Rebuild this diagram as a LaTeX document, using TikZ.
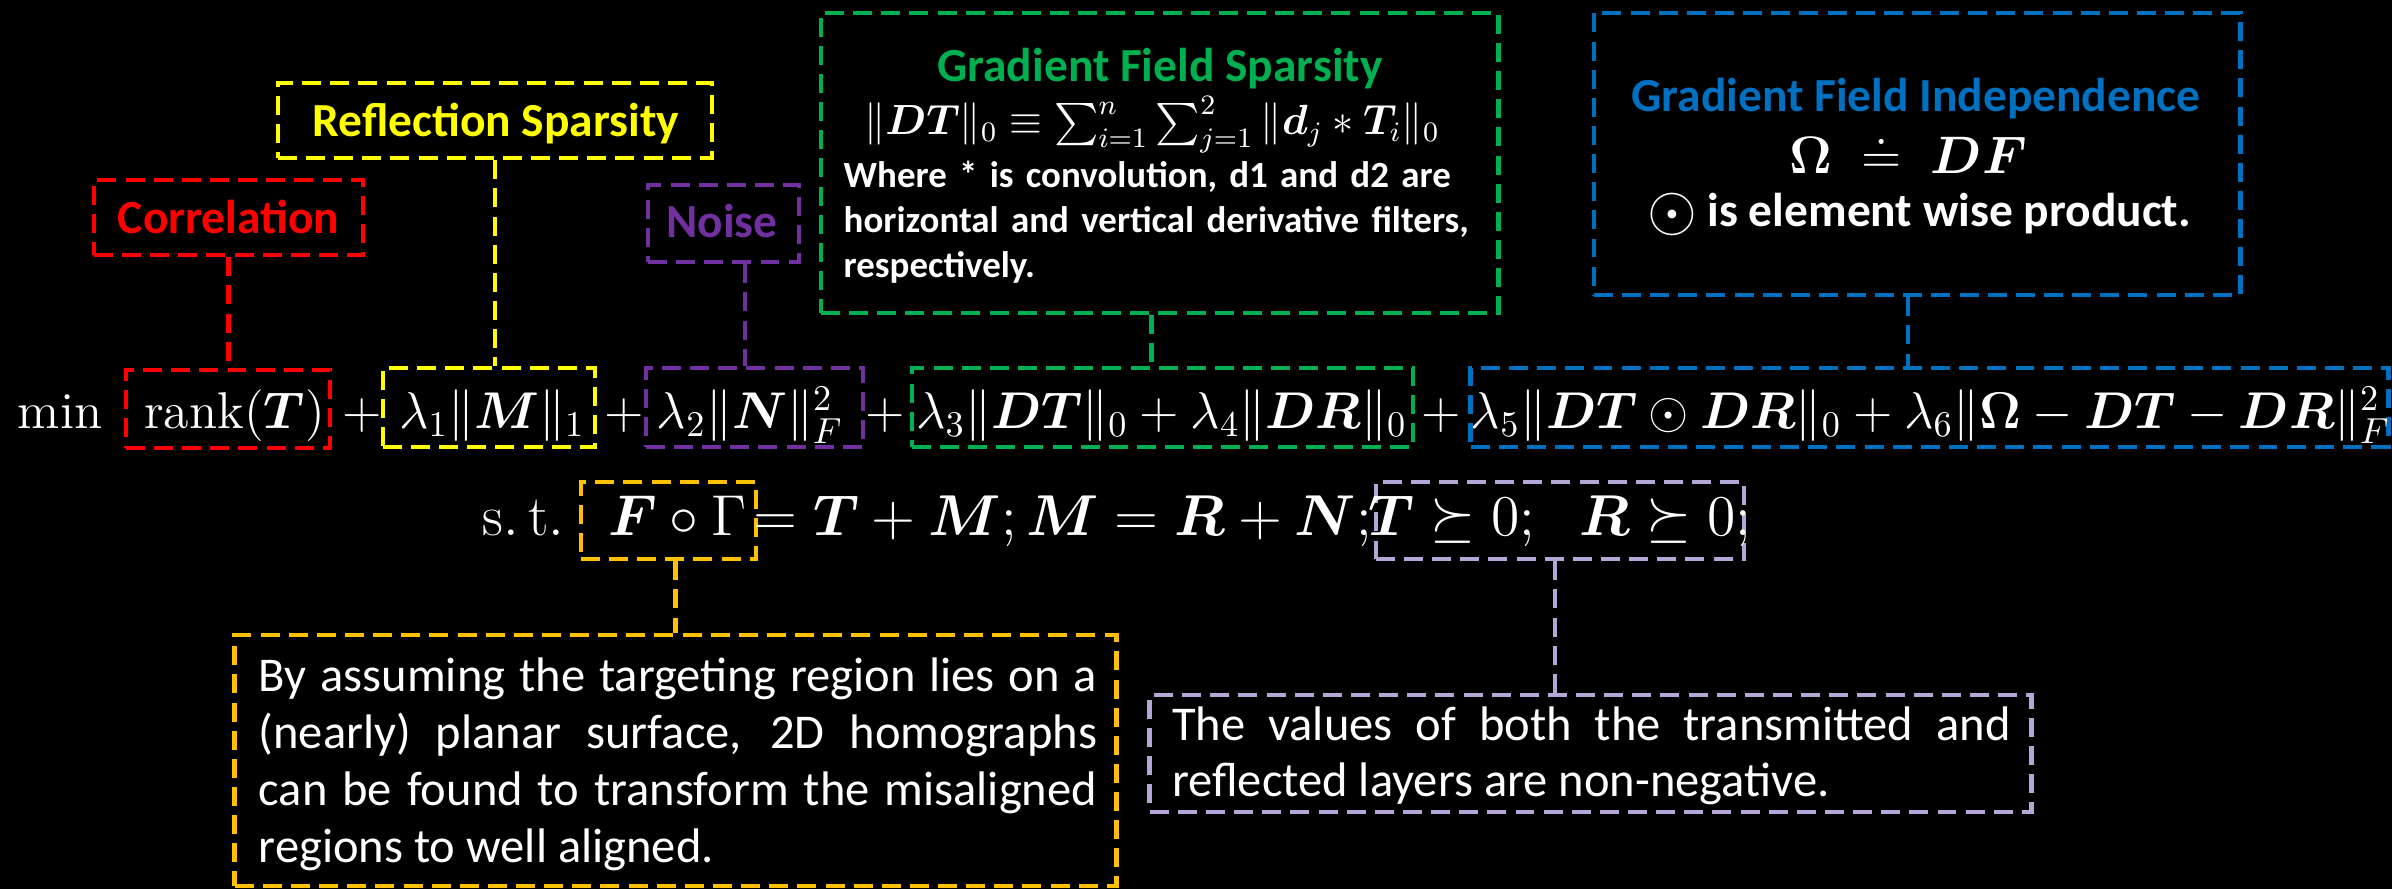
\RequirePackage{fix-cm}
\documentclass[tikz,border=0pt]{standalone}
\usepackage{amsmath,amssymb,bm}
\usepackage{graphicx}
\usepackage{fontspec}
\newfontfamily\calib{Carlito}
\usetikzlibrary{calc}
\definecolor{cRed}{HTML}{FF0000}
\definecolor{cYel}{HTML}{FFFF00}
\definecolor{cPur}{HTML}{7030A0}
\definecolor{cGrn}{HTML}{00B050}
\definecolor{cBlu}{HTML}{0070C0}
\definecolor{cOra}{HTML}{FFC000}
\definecolor{cLav}{HTML}{B4A7D6}
\tikzset{
  dbox/.style={draw=#1, line width=1.3pt, dash pattern=on 5.4pt off 2.6pt, inner sep=0pt, rectangle},
  link/.style={draw=#1, line width=1.3pt, dash pattern=on 5.4pt off 2.6pt},
  lbl/.style={font=\calib\bfseries\fontsize{13.5}{16}\selectfont, text=#1, inner sep=0pt, anchor=base},
  eq/.style={font=\fontsize{14.7}{17}\selectfont, text=white, inner sep=0pt, anchor=base},
  eqb/.style={font=\fontsize{16.4}{19}\selectfont, text=white, inner sep=0pt, anchor=base},
  para/.style={font=\calib\fontsize{13.8}{16.2}\selectfont, text=white, inner sep=0pt, anchor=base west, text width=8.38cm, align=justify},
}
\begin{document}
\begin{tikzpicture}[x=0.01cm, y=-0.01cm]
\useasboundingbox (0,0) rectangle (2392,889);
\fill[black] (0,0) rectangle (2392,889);

% boxes
\node[dbox=cRed, minimum width=2.69cm, minimum height=0.75cm] (corrBox) at (228.5,217.5) {};
\node[dbox=cYel, minimum width=4.34cm, minimum height=0.75cm] (reflBox) at (495,120.5) {};
\node[dbox=cPur, minimum width=1.51cm, minimum height=0.77cm] (noiseBox) at (723.5,223.5) {};
\node[dbox=cGrn, minimum width=6.77cm, minimum height=3.00cm] (gfsBox) at (1159.5,163) {};
\node[dbox=cBlu, minimum width=6.46cm, minimum height=2.82cm] (gfiBox) at (1917,154) {};
\node[dbox=cRed, minimum width=2.04cm, minimum height=0.78cm] (rankBox) at (228,409) {};
\node[dbox=cYel, minimum width=2.12cm, minimum height=0.79cm] (mBox) at (489,407.5) {};
\node[dbox=cPur, minimum width=2.17cm, minimum height=0.79cm] (nBox) at (754.5,407.5) {};
\node[dbox=cGrn, minimum width=5.01cm, minimum height=0.79cm] (dBox) at (1162.5,407.5) {};
\node[dbox=cBlu, minimum width=9.17cm, minimum height=0.79cm] (indBox) at (1929.5,407.5) {};
\node[dbox=cOra, minimum width=1.75cm, minimum height=0.77cm] (fgBox) at (668.5,520.5) {};
\node[dbox=cLav, minimum width=3.68cm, minimum height=0.77cm] (posBox) at (1560,520.5) {};
\node[dbox=cOra, minimum width=8.81cm, minimum height=2.51cm] (homBox) at (675.5,760.5) {};
\node[dbox=cLav, minimum width=8.81cm, minimum height=1.17cm] (nnBox) at (1590.5,753.5) {};

% connectors
\draw[link=cRed] (corrBox.south) -- (corrBox.south |- rankBox.north);
\draw[link=cYel] (reflBox.south) -- (reflBox.south |- mBox.north);
\draw[link=cPur] ($(nBox.north |- noiseBox.south)+(-9.5,0)$) -- ($(nBox.north)+(-9.5,0)$);
\draw[link=cGrn] ($(gfsBox.south)+(-8,0)$) -- ($(gfsBox.south |- dBox.north)+(-8,0)$);
\draw[link=cBlu] ($(gfiBox.south)+(-9,0)$) -- ($(gfiBox.south |- indBox.north)+(-9,0)$);
\draw[link=cOra] (homBox.north |- fgBox.south) -- (homBox.north);
\draw[link=cLav] ($(posBox.south)+(-5,0)$) -- ($(posBox.south |- nnBox.north)+(-5,0)$);

% labels
\node[lbl=cRed] (tcorr) at (228.5,234) {Correlation};
\node[lbl=cYel] (trefl) at (496,137) {Reflection Sparsity};
\node[lbl=cPur] (tnoise) at (722,238) {Noise};
\node[lbl=cGrn] (tgfs) at (1160,82) {Gradient Field Sparsity};
\node[eq, font=\fontsize{12}{14}\selectfont] (tgfsf) at (1152,135) {$\|\bm{DT}\|_0\equiv\sum_{i=1}^{n}\sum_{j=1}^{2}\|\bm{d}_j*\bm{T}_i\|_0$};
\node[font=\calib\bfseries\fontsize{10.5}{12.66}\selectfont, text=white, align=left, text width=6.3cm, anchor=base west, inner sep=0pt] (tgfsd) at (843,188) {Where * is convolution, d1 and d2 are\\horizontal and vertical derivative filters,\\respectively.};
\node[lbl=cBlu] (tgfi) at (1916,112) {Gradient Field Independence};
\node[eq, font=\fontsize{15}{18}\selectfont] (tomega) at (1908,174) {$\bm{\Omega}\;\doteq\;\bm{DF}$};
\node[lbl=white] (todot) at (1919,227) {\raisebox{-0.08em}{\scalebox{1.35}{$\odot$}} is element wise product.};

% main equation
\node[eq] (tmin) at (60,429) {$\min$};
\node[eq] (trank) at (234.5,429) {$\operatorname{rank}(\bm{T})$};
\node[eq] (p1) at (362,429) {$+$};
\node[eq] (tM) at (492,429) {$\lambda_1\|\bm{M}\|_1$};
\node[eq] (p2) at (624,429) {$+$};
\node[eq] (tN) at (750,429) {$\lambda_2\|\bm{N}\|_F^2$};
\node[eq] (p3) at (885.5,429) {$+$};
\node[eq] (tD) at (1161.5,429) {$\lambda_3\|\bm{DT}\|_0+\lambda_4\|\bm{DR}\|_0$};
\node[eq] (p4) at (1441,429) {$+$};
\node[eq] (tI) at (1930.5,429) {$\lambda_5\|\bm{DT}\odot\bm{DR}\|_0+\lambda_6\|\bm{\Omega}-\bm{DT}-\bm{DR}\|_F^2$};

% constraints
\node[eqb] (tst) at (523.5,536) {$\mathrm{s.\,t.}$};
\node[eqb] (tFG) at (677.5,536) {$\bm{F}\circ\Gamma$};
\node[eqb] (tmid) at (1062.5,536) {$=\bm{T}+\bm{M};\bm{M}=\bm{R}+\bm{N};$};
\node[eqb] (tpos) at (1560,536) {$\bm{T}\succeq 0;\hspace{0.6em}\bm{R}\succeq 0;$};

% paragraphs
\node[para] (thom) at (258,692) {\hyphenpenalty=10000 By assuming the targeting region lies on a\linebreak (nearly) planar surface, 2D homographs\linebreak can be found to transform the misaligned\linebreak regions to well aligned.};
\node[para] (tnn) at (1171.5,740) {\hyphenpenalty=10000 The values of both the transmitted and\linebreak reflected layers are non-negative.};
\end{tikzpicture}
\end{document}
